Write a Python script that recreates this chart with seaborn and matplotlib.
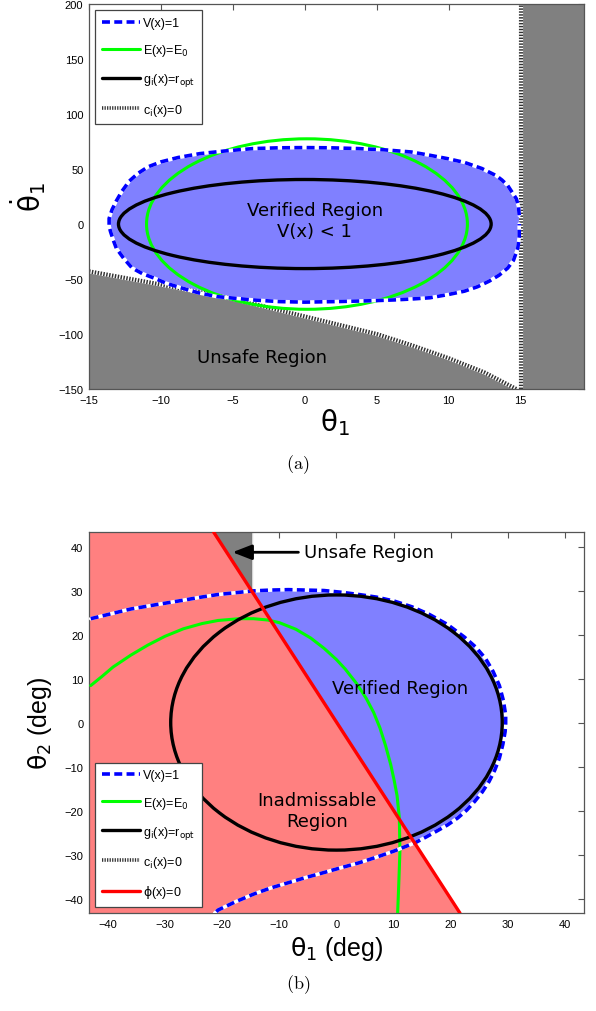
import numpy as np
import pandas as pd
import matplotlib
matplotlib.use("Agg")
import matplotlib.pyplot as plt
import seaborn as sns
from matplotlib.patches import Ellipse
from matplotlib.lines import Line2D

# ---------------- data: panel (a) ----------------
a_xlim = (-15, 19.4)
a_ylim = (-150, 200)
a_xticks = [-15, -10, -5, 0, 5, 10, 15]
a_yticks = [-150, -100, -50, 0, 50, 100, 150, 200]
# V(x)=1 level set
a_V_x = [14.9, 14.85, 14.7, 14.4, 14.1, 13.7, 13.3, 12.3, 11.1, 9.9, 8.7, 7.4, 5.5, 3.7,
         1.8, 0.0, -1.8, -3.6, -5.5, -7.3, -8.8, -10.0, -10.9, -11.6, -12.2, -12.7,
         -13.1, -13.4, -13.6, -13.6, -13.5, -13.3, -13.1, -12.6, -12.0, -11.3, -10.5,
         -9.6, -8.6, -7.4, -6.1, -3.6, -1.8, 0.0, 2.5, 4.5, 6.2, 7.6, 8.7, 10.0, 11.1,
         12.0, 12.8, 13.5, 14.1, 14.5, 14.8, 14.9, 14.9]
a_V_y = [8, 16, 23, 29, 35, 40, 44, 50.5, 56, 59.5, 62.5, 65.5, 67.5, 68.6,
         69.3, 69.5, 69.3, 68.6, 66.5, 64, 60.5, 56.5, 52, 46, 39, 30,
         21, 13, 5, -2, -7, -15, -22, -31, -40, -45, -49,
         -54, -58, -62.5, -66, -69, -70.5, -71, -70.4, -69.8, -69, -68, -67, -64, -61,
         -57, -52, -46.5, -40, -33, -22, -12, 0]
# E(x)=E0 ellipse
a_E_center = (0.15, 0.0)
a_E_size = (22.3, 155.0)
# g_i(x)=r_opt ellipse
a_g_center = (0.0, 0.0)
a_g_size = (25.9, 81.0)
# c_i(x)=0 boundaries
a_c_x = [-15, -12.5, -10, -7.5, -5, -2.5, 0, 2.5, 5, 7.5, 10, 12.5, 14.7]
a_c_y = [-43, -49, -55, -61.5, -68, -76, -84, -92, -100, -110.5, -122, -135, -150]
a_c_vert = 15.0

# ---------------- data: panel (b) ----------------
b_lim = (-43.3, 43.3)
b_ticks = [-40, -30, -20, -10, 0, 10, 20, 30, 40]
b_V_x = [-43, -39.5, -36, -31.5, -26.8, -23.7, -20.7, -17.7, -14.8, -11.6, -8.4, -5.3,
         -2.2, 0.9, 3.9, 7.0, 10.1, 13.2, 16.2, 19.4, 22.4, 24.4, 26.1, 27.4, 28.5, 29.2,
         29.6, 29.6, 29.5, 29.1, 28.5, 27.7, 26.7, 25.5, 24.2, 22.8, 21.2, 19.4, 17.5,
         15.7, 13.8, 10.1, 7.0, 3.9, 0.8, -2.2, -5.3, -8.4, -11.5, -14.5, -17.6, -20.7, -21.3]
b_V_y = [23.6, 24.7, 25.8, 26.8, 27.8, 28.5, 29.1, 29.5, 29.9, 30.1, 30.2, 30.1,
         30.0, 29.6, 29.1, 28.5, 27.6, 26.3, 24.6, 22.3, 19.4, 17.1, 14.5, 11.6, 8.4, 5.0,
         1.7, -0.2, -2.1, -5.0, -8.1, -10.8, -13.4, -15.8, -17.9, -19.9, -21.7, -23.3, -24.7,
         -26.0, -27.3, -29.2, -30.6, -31.9, -33.0, -34.1, -35.2, -36.4, -37.6, -39.0, -40.7, -42.6, -43.3]
b_E_x = [-43, -41, -39.1, -36, -33, -30, -26.8, -23.5, -20.7, -17, -14.5, -12, -10,
         -7.1, -4.5, -2.2, 0, 1.5, 3.5, 5.2, 6.5, 7.6, 8.6, 9.5, 10.1, 10.6, 11.0,
         11.1, 10.9, 10.7]
b_E_y = [8.4, 10.5, 12.6, 15.3, 17.6, 19.6, 21.3, 22.5, 23.2, 23.6, 23.6, 23.3, 22.7,
         21.2, 19.2, 16.9, 14.3, 12.2, 8.9, 5.5, 2.3, -1.2, -5.3, -9.6, -13.2, -16.6, -21.7,
         -29.2, -36.7, -43.3]
b_g_center = (0.0, 0.0)
b_g_size = (58.0, 58.0)
b_c_x = -14.8
b_phi_x = [-21.5, 21.6]
b_phi_y = [43.3, -43.3]

# ---------------- style ----------------
sns.set_theme(style="white")
plt.rcParams["font.family"] = ["Liberation Sans", "DejaVu Sans"]
plt.rcParams["mathtext.fontset"] = "dejavusans"
plt.rcParams["text.color"] = "black"
plt.rcParams["axes.labelcolor"] = "black"

BLUE_FILL = "#8080FF"
RED_FILL = "#FF8080"
GRAY = "#808080"
DASH = (0, (2.2, 1.2))
DOT = (0, (0.35, 0.35))

fig = plt.figure(figsize=(5.96, 10.12), dpi=100)
axA = fig.add_axes([0.1493, 0.6146, 0.8305, 0.3804])
axB = fig.add_axes([0.1493, 0.0968, 0.8305, 0.3765])


def style_axis(ax):
    for s in ax.spines.values():
        s.set_color("#555555")
        s.set_linewidth(0.9)
    ax.tick_params(direction="in", length=4, width=0.8, color="#555555",
                   top=True, right=True, labelsize=8, labelcolor="black", pad=4)


def vline_curve(ax, x, y, z):
    sns.lineplot(x=x, y=y, sort=False, estimator=None, color="white", lw=2.6,
                 ax=ax, zorder=z)
    sns.lineplot(x=x, y=y, sort=False, estimator=None, color="#0000FF", lw=2.6,
                 linestyle=DASH, ax=ax, zorder=z + 0.1)


def c_curve(ax, x, y, z):
    sns.lineplot(x=x, y=y, sort=False, estimator=None, color="white", lw=3.0,
                 ax=ax, zorder=z)
    sns.lineplot(x=x, y=y, sort=False, estimator=None, color="#333333", lw=3.0,
                 linestyle=DOT, ax=ax, zorder=z + 0.1)


def make_legend(ax, handles, labels, loc):
    leg = ax.legend(handles, labels, loc=loc, fontsize=9,
                    handlelength=3.0, handletextpad=0.3, labelspacing=1.05,
                    borderaxespad=0.5, borderpad=0.55, frameon=True, fancybox=False,
                    framealpha=1)
    leg.get_frame().set_edgecolor("#444444")
    leg.get_frame().set_linewidth(0.9)
    leg.set_zorder(10)
    return leg


# ---------------- panel (a) ----------------
ax = axA
ax.fill_between(a_c_x, a_c_y, a_ylim[0], color=GRAY, lw=0, zorder=1)
ax.axvspan(a_c_vert, a_xlim[1], color=GRAY, lw=0, zorder=1)
ax.fill(a_V_x, a_V_y, color=BLUE_FILL, lw=0, zorder=1.5)
c_curve(ax, a_c_x, a_c_y, 2)
c_curve(ax, [a_c_vert, a_c_vert], list(a_ylim), 2)
ax.add_patch(Ellipse(a_E_center, *a_E_size, fill=False, ec="#00FF00", lw=2.2, zorder=3))
vline_curve(ax, a_V_x, a_V_y, 3.5)
ax.add_patch(Ellipse(a_g_center, *a_g_size, fill=False, ec="black", lw=2.4, zorder=4))
ax.text(0.7, 3, "Verified Region\nV(x) < 1", ha="center", va="center", fontsize=13,
        family="DejaVu Sans", color="black", zorder=5, linespacing=1.2)
ax.text(-3.0, -121, "Unsafe Region", ha="center", va="center", fontsize=13,
        family="DejaVu Sans", color="black", zorder=5)
ax.set_xlim(*a_xlim)
ax.set_ylim(*a_ylim)
ax.set_xticks(a_xticks)
ax.set_yticks(a_yticks)
style_axis(ax)
ax.set_xlabel(r"$\mathrm{\theta}_1$", fontsize=20)
ax.xaxis.set_label_coords(0.497, -0.045)
ax.xaxis.label.set_va("top")
ax.set_ylabel(r"$\dot{\mathrm{\theta}}_1$", fontsize=20)
ax.yaxis.set_label_coords(-0.083, 0.5)

hV = Line2D([], [], color="#0000FF", lw=2.6, linestyle=DASH)
hE = Line2D([], [], color="#00FF00", lw=2.2)
hg = Line2D([], [], color="black", lw=2.4)
hc = Line2D([], [], color="#333333", lw=2.6, linestyle=DOT)
hp = Line2D([], [], color="#FF0000", lw=2.4)
labels = ["V(x)=1", r"E(x)=E$_0$", r"g$_\mathrm{i}$(x)=r$_\mathrm{opt}$", r"c$_\mathrm{i}$(x)=0"]
make_legend(ax, [hV, hE, hg, hc], labels, "upper left")

# ---------------- panel (b) ----------------
ax = axB
ax.axvspan(b_lim[0], b_c_x, color=GRAY, lw=0, zorder=1)
ax.fill(b_V_x, b_V_y, color=BLUE_FILL, lw=0, zorder=1.5)
red_poly_x = [b_lim[0], b_lim[0], b_phi_x[0], b_phi_x[1]]
red_poly_y = [b_lim[0], b_lim[1], b_phi_y[0], b_phi_y[1]]
ax.fill(red_poly_x, red_poly_y, color=RED_FILL, lw=0, zorder=1.8)
sns.lineplot(x=[b_c_x, b_c_x], y=list(b_lim), color="#333333", lw=1.6,
             linestyle=(0, (0.6, 0.6)), ax=ax, zorder=2)
sns.lineplot(x=b_E_x, y=b_E_y, sort=False, estimator=None, color="#00FF00",
             lw=2.2, ax=ax, zorder=3)
vline_curve(ax, b_V_x, b_V_y, 3.5)
ax.add_patch(Ellipse(b_g_center, *b_g_size, fill=False, ec="black", lw=2.4, zorder=4))
sns.lineplot(x=b_phi_x, y=b_phi_y, color="#FF0000", lw=2.4, ax=ax, zorder=4.5)
ax.text(11.1, 7.8, "Verified Region", ha="center", va="center", fontsize=13,
        family="DejaVu Sans", color="black", zorder=5)
ax.text(-3.4, -20, "Inadmissable\nRegion", ha="center", va="center", fontsize=13,
        family="DejaVu Sans", color="black", zorder=5, linespacing=1.25)
ax.annotate("Unsafe Region", xy=(-18.2, 38.7), xytext=(-5.6, 38.7),
            ha="left", va="center", fontsize=13, family="DejaVu Sans", color="black",
            zorder=6,
            arrowprops=dict(arrowstyle="-|>,head_length=0.9,head_width=0.35",
                            color="black", lw=2, shrinkA=2, shrinkB=0))
ax.set_xlim(*b_lim)
ax.set_ylim(*b_lim)
ax.set_xticks(b_ticks)
ax.set_yticks(b_ticks)
style_axis(ax)
ax.set_xlabel(r"$\mathrm{\theta}_1$ (deg)", fontsize=18)
ax.xaxis.set_label_coords(0.5, -0.055)
ax.xaxis.label.set_va("top")
ax.set_ylabel(r"$\mathrm{\theta}_2$ (deg)", fontsize=18)
ax.yaxis.set_label_coords(-0.07, 0.5)
labelsB = labels + [r"$\mathrm{\phi}$(x)=0"]
make_legend(ax, [hV, hE, hg, hc, hp], labelsB, "lower left")

fig.text(0.5, 1 - 465 / 1012, r"$\mathrm{(a)}$", ha="center", va="center",
         fontsize=13, math_fontfamily="cm")
fig.text(0.5, 1 - 985 / 1012, r"$\mathrm{(b)}$", ha="center", va="center",
         fontsize=13, math_fontfamily="cm")

fig.savefig("out.png", dpi=100)
